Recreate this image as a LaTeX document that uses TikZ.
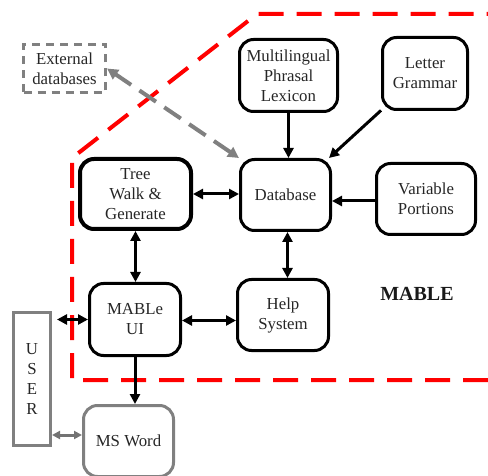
\documentclass[tikz,border=0pt]{standalone}
\usepackage{fontspec}
\setmainfont{Liberation Serif}
\usetikzlibrary{arrows.meta,calc}
\tikzset{
  box/.style={draw=black, line width=3pt, rounded corners=14pt, align=center, inner sep=0pt,
    font=\fontsize{16.8}{20}\selectfont, text=black!85},
  graybox/.style={box, draw=black!50},
  arr/.style={line width=3pt, -{Triangle[length=10pt,width=10pt]}},
  darr/.style={line width=3pt, {Triangle[length=10pt,width=10pt]}-{Triangle[length=10pt,width=10pt]}},
  gdarr/.style={line width=3pt, draw=black!55, {Triangle[length=8pt,width=8pt]}-{Triangle[length=8pt,width=8pt]}},
  boundary/.style={draw=red, line width=4pt, dash pattern=on 25pt off 13pt},
}
\begin{document}
\begin{tikzpicture}[x=1pt,y=-1pt]
\useasboundingbox (0,0) rectangle (488,476);
% boundary
\coordinate (b1) at (488,380);
\coordinate (b2) at (72,380);
\coordinate (b3) at (72,158);
\coordinate (b4) at (257,14);
\coordinate (b5) at (488,14);
\draw[boundary] (b1) -- (b2) -- (b3) -- (b4) -- (b5);

\node[box, line width=4pt, minimum width=111pt, minimum height=70pt] (tree) at (135.5,194) {Tree\\Walk \&\\Generate};
\node[box, minimum width=90pt, minimum height=71pt] (db) at (285.5,195) {Database};
\node[box, minimum width=98pt, minimum height=72pt] (lex) at (288.5,75.5) {Multilingual\\Phrasal\\Lexicon};
\node[box, minimum width=85pt, minimum height=72pt] (let) at (425,73.5) {Letter\\Grammar};
\node[box, minimum width=99pt, minimum height=71pt] (var) at (426,199) {Variable\\Portions};
\node[box, minimum width=91pt, minimum height=72pt] (ui) at (135,319.5) {MABLe\\UI};
\node[box, minimum width=91pt, minimum height=71pt] (help) at (283,315) {Help\\System};
\node[graybox, minimum width=90pt, minimum height=71pt] (word) at (128.5,441) {MS Word};
\node[graybox, rounded corners=0pt, minimum width=37pt, minimum height=133pt] (user) at (32,379) {U\\S\\E\\R};
\node[box, draw=black!50, rounded corners=0pt, dash pattern=on 8pt off 6pt, minimum width=82pt, minimum height=48pt] (ext) at (64.5,68.5) {External\\databases};
\node[font=\fontsize{20}{24}\selectfont\bfseries, text=black!90] (mable) at (417,294) {MABLE};

% connectors
\draw[line width=4pt, draw=black!50, dash pattern=on 20pt off 10pt,
  {Triangle[length=11pt,width=11pt]}-{Triangle[length=11pt,width=11pt]}] (db.north west) -- (ext.east);
\draw[darr] (tree.east) -- (tree.east -| db.west);
\draw[arr] (lex.south) -- (lex.south |- db.north);
\draw[arr] (let.220) -- ([xshift=-3pt]db.north east);
\draw[arr] ([yshift=-2pt]var.west) -- ([yshift=-2pt]var.west -| db.east);
\draw[darr] ([xshift=2pt]db.south) -- ([xshift=2pt]db.south |- help.north);
\draw[darr] (tree.south) -- (tree.south |- ui.north);
\draw[darr] ([yshift=-1pt]ui.east) -- ([yshift=-1pt]ui.east -| help.west);
\draw[darr] ([xshift=5pt]user.east |- ui.west) -- (ui.west);
\draw[arr] (ui.south) -- (ui.south |- word.north);
\draw[gdarr] ([yshift=6pt]word.west) -- ([yshift=6pt]word.west -| user.east);
\end{tikzpicture}
\end{document}
